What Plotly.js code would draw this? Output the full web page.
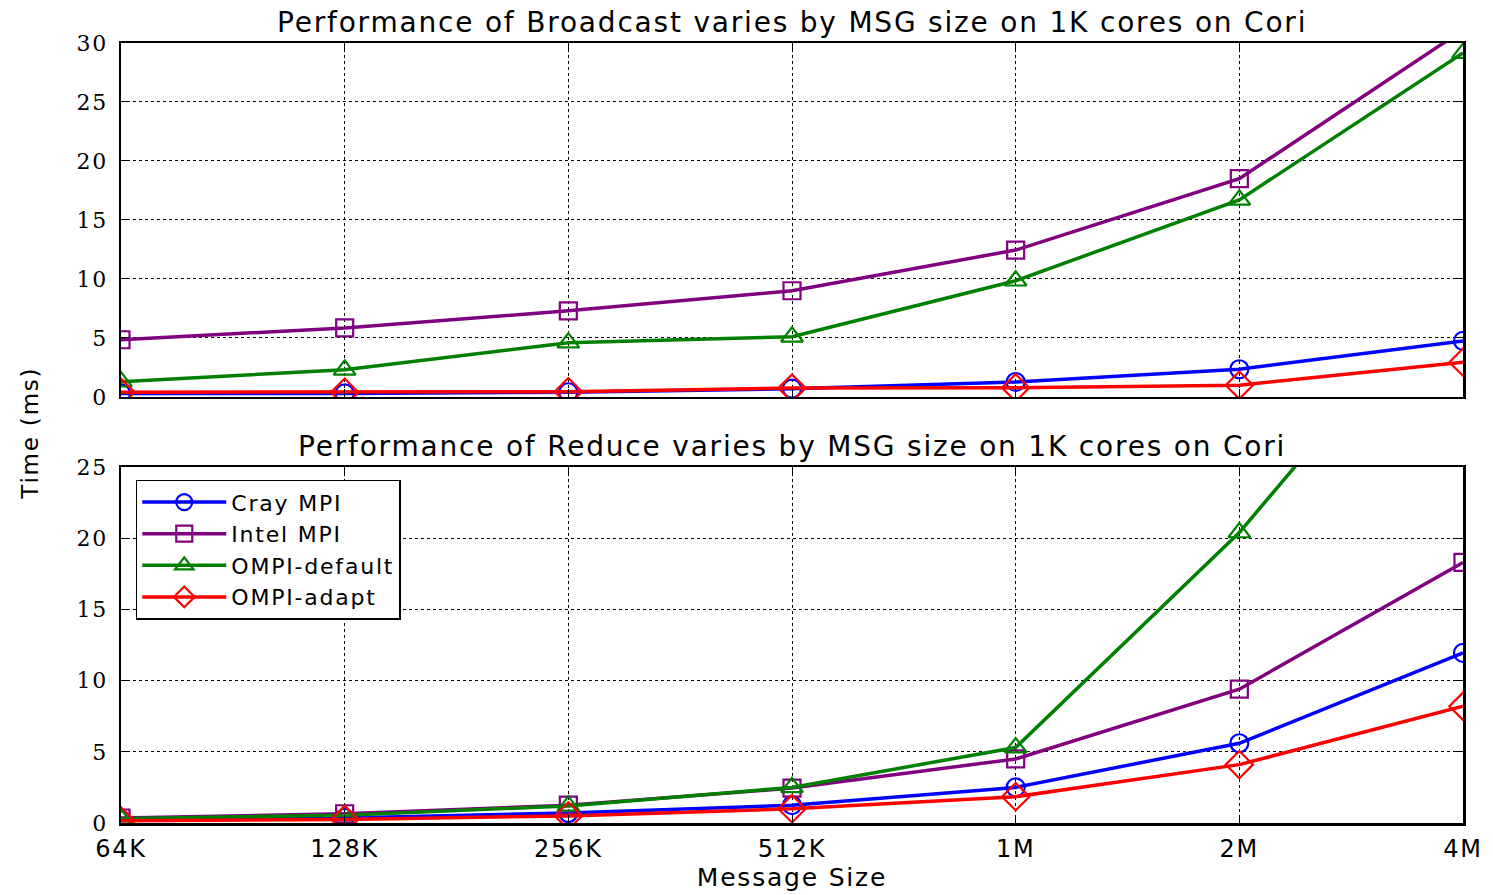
<!DOCTYPE html>
<html>
<head>
<meta charset="utf-8">
<script src="https://cdn.plot.ly/plotly-3.0.1.min.js"></script>
<style>
body{margin:0;background:#fff;}
#chart{width:1493px;height:895px;}
svg text{letter-spacing:1.8px;}
</style>
</head>
<body>
<div id="chart"></div>
<script>
const sizes = ["64K", "128K", "256K", "512K", "1M", "2M", "4M"];
const seriesNames = ["Cray MPI", "Intel MPI", "OMPI-default", "OMPI-adapt"];

// Broadcast (top) times in ms
const bcastCray    = [0.3, 0.3, 0.4, 0.7, 1.27, 2.35, 4.75];
const bcastIntel   = [4.85, 5.85, 7.3, 9.0, 12.45, 18.5, 31.1];
const bcastDefault = [1.3, 2.3, 4.6, 5.1, 9.85, 16.7, 29.15];
const bcastAdapt   = [0.4, 0.4, 0.45, 0.75, 0.78, 1.0, 2.95];

// Reduce (bottom) times in ms
const redCray    = [0.2, 0.35, 0.7, 1.25, 2.5, 5.6, 11.95];
const redIntel   = [0.35, 0.65, 1.25, 2.45, 4.5, 9.4, 18.3];
const redDefault = [0.3, 0.55, 1.2, 2.5, 5.3, 20.4, 39.0];
const redAdapt   = [0.15, 0.25, 0.5, 1.0, 1.85, 4.1, 8.2];

const colors = ["#0000ff", "#800080", "#008000", "#ff0000"];
const symbols = ["circle-open", "square-open", "triangle-up-open", "diamond-open"];
const msizes = [18, 17, 19, 21];

const topData = [bcastCray, bcastIntel, bcastDefault, bcastAdapt];
const botData = [redCray, redIntel, redDefault, redAdapt];

const traces = [];
topData.forEach((ys, i) => {
  traces.push({
    x: sizes, y: ys, xaxis: "x2", yaxis: "y2", type: "scatter", mode: "lines+markers",
    name: seriesNames[i], showlegend: false,
    line: {color: colors[i], width: 3.5},
    marker: {symbol: symbols[i], size: msizes[i], color: colors[i], line: {color: colors[i], width: 2.2}}
  });
});
botData.forEach((ys, i) => {
  traces.push({
    x: sizes, y: ys, xaxis: "x", yaxis: "y", type: "scatter", mode: "lines+markers",
    name: seriesNames[i], showlegend: true,
    line: {color: colors[i], width: 3.5},
    marker: {symbol: symbols[i], size: msizes[i], color: colors[i], line: {color: colors[i], width: 2.2}}
  });
});

const serif = "DejaVu Serif, Liberation Serif, serif";
const sans = "DejaVu Sans, Liberation Sans, Arial, sans-serif";

const axisCommon = {
  showline: true, linecolor: "#000", linewidth: 2.5, mirror: "ticks",
  ticks: "inside", ticklen: 8, tickwidth: 1, tickcolor: "#000",
  showgrid: true, gridcolor: "#000", gridwidth: 1, griddash: "dot",
  zeroline: false
};

const layout = {
  width: 1493, height: 895,
  margin: {l: 121, r: 30, t: 43, b: 72},
  paper_bgcolor: "#fff", plot_bgcolor: "#fff",
  showlegend: true,
  legend: {
    x: 0.011, y: 0.44, xanchor: "left", yanchor: "top",
    bgcolor: "#fff", bordercolor: "#000", borderwidth: 1.5,
    font: {family: sans, size: 22, color: "#000"},
    itemwidth: 84, tracegroupgap: 0
  },
  xaxis: Object.assign({}, axisCommon, {
    type: "category", range: [0, 6], anchor: "y",
    ticklabelstandoff: 3,
    tickfont: {family: sans, size: 24, color: "#000"},
    title: {text: "Message Size", font: {family: sans, size: 25, color: "#000"}, standoff: 2}
  }),
  yaxis: Object.assign({}, axisCommon, {
    domain: [0, 0.4564], range: [0, 25], dtick: 5, anchor: "x",
    ticklabelstandoff: 6,
    tickfont: {family: serif, size: 22, color: "#000"}
  }),
  xaxis2: Object.assign({}, axisCommon, {
    type: "category", range: [0, 6], anchor: "y2", showticklabels: false
  }),
  yaxis2: Object.assign({}, axisCommon, {
    domain: [0.5462, 1], range: [0, 30], dtick: 5, anchor: "x2",
    ticklabelstandoff: 6,
    tickfont: {family: serif, size: 22, color: "#000"}
  }),
  annotations: [
    {text: "Performance of Broadcast varies by MSG size on 1K cores on Cori", xref: "paper", yref: "paper",
     x: 0.5, y: 1, yanchor: "bottom", yshift: 2, showarrow: false,
     font: {family: sans, size: 28, color: "#000"}},
    {text: "Performance of Reduce varies by MSG size on 1K cores on Cori", xref: "paper", yref: "paper",
     x: 0.5, y: 0.4564, yanchor: "bottom", yshift: 2, showarrow: false,
     font: {family: sans, size: 28, color: "#000"}},
    {text: "Time (ms)", xref: "paper", yref: "paper", x: -0.068, y: 0.5, textangle: -90,
     xanchor: "center", yanchor: "middle", showarrow: false,
     font: {family: sans, size: 23, color: "#000"}}
  ]
};

Plotly.newPlot("chart", traces, layout, {displayModeBar: false, staticPlot: true});
</script>
</body>
</html>
